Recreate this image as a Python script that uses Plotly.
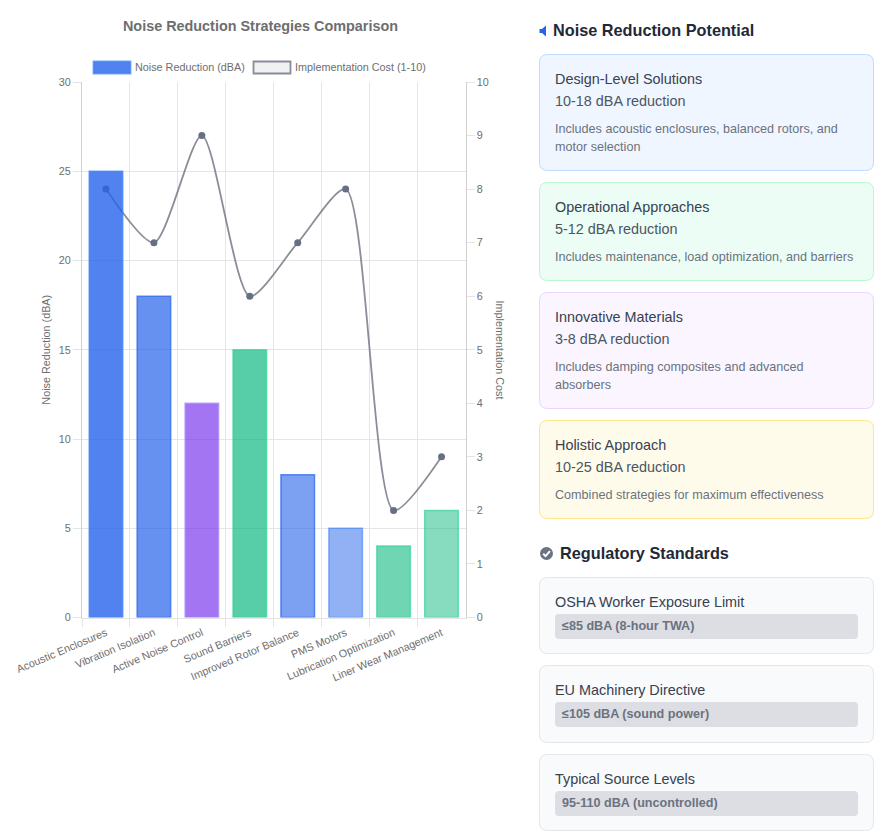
import plotly.graph_objects as go

W, H = 889, 839

# ---- chart data ----
categories = ["Acoustic Enclosures", "Vibration Isolation", "Active Noise Control", "Sound Barriers",
              "Improved Rotor Balance", "PMS Motors", "Lubrication Optimization", "Liner Wear Management"]
noise_reduction = [25, 18, 12, 15, 8, 5, 4, 6]
implementation_cost = [8, 7, 9, 6, 7, 8, 2, 3]
bar_fill = ["rgba(37,99,235,0.8)", "rgba(37,99,235,0.7)", "rgba(124,58,237,0.7)", "rgba(16,185,129,0.7)",
            "rgba(37,99,235,0.6)", "rgba(37,99,235,0.5)", "rgba(16,185,129,0.6)", "rgba(16,185,129,0.5)"]
bar_line = ["rgba(59,130,246,0.7)", "rgba(37,99,235,0.7)", "rgba(167,139,250,0.7)", "rgba(52,211,153,0.7)",
            "rgba(37,99,235,0.7)", "rgba(59,130,246,0.6)", "rgba(52,211,153,0.7)", "rgba(52,211,153,0.7)"]

# ---- side panel text ----
section_potential = "Noise Reduction Potential"
section_standards = "Regulatory Standards"
potential_titles = ["Design-Level Solutions", "Operational Approaches", "Innovative Materials", "Holistic Approach"]
potential_values = ["10-18 dBA reduction", "5-12 dBA reduction", "3-8 dBA reduction", "10-25 dBA reduction"]
potential_notes = [["Includes acoustic enclosures, balanced rotors, and", "motor selection"],
                   ["Includes maintenance, load optimization, and barriers"],
                   ["Includes damping composites and advanced", "absorbers"],
                   ["Combined strategies for maximum effectiveness"]]
standard_titles = ["OSHA Worker Exposure Limit", "EU Machinery Directive", "Typical Source Levels"]
standard_values = ["≤85 dBA (8-hour TWA)", "≤105 dBA (sound power)", "95-110 dBA (uncontrolled)"]

px = lambda x: x / W
py = lambda y: 1 - y / H
CHART_FONT = "Liberation Sans, Arial, sans-serif"
UI_FONT = "Liberation Sans, Arial, sans-serif"
TXT = "#6e6e6e"
CS = 10.8

shapes, annotations = [], []


def rrect(x0, y0, x1, y1, r, fill, line, lw=1):
    X0, X1, Y0, Y1 = px(x0), px(x1), py(y0), py(y1)
    rx, ry = r / W, r / H
    path = (f"M{X0+rx},{Y0} L{X1-rx},{Y0} Q{X1},{Y0} {X1},{Y0-ry} L{X1},{Y1+ry} Q{X1},{Y1} {X1-rx},{Y1} "
            f"L{X0+rx},{Y1} Q{X0},{Y1} {X0},{Y1+ry} L{X0},{Y0-ry} Q{X0},{Y0} {X0+rx},{Y0} Z")
    shapes.append(dict(type="path", xref="paper", yref="paper", path=path, fillcolor=fill,
                       line=dict(color=line, width=lw), layer="below"))


def text(x, y, s, size, color, font=UI_FONT, bold=False, anchor="left", angle=0):
    annotations.append(dict(xref="paper", yref="paper", x=px(x), y=py(y), text=f"<b>{s}</b>" if bold else s,
                            showarrow=False, xanchor=anchor, yanchor="middle", textangle=angle,
                            font=dict(family=font, size=size, color=color), borderpad=0, borderwidth=0))


# legend
rrect(93.5, 61.5, 130.5, 73.5, 0, "rgba(37,99,235,0.8)", "rgba(59,130,246,0.7)", 1.8)
text(135.3, 67.3, "Noise Reduction (dBA)", CS, TXT, CHART_FONT)
rrect(253.5, 61.5, 290.5, 73.5, 0, "rgba(107,114,128,0.1)", "rgba(107,114,128,0.8)", 1.8)
text(295.3, 67.3, "Implementation Cost (1-10)", CS, TXT, CHART_FONT)
text(499.5, 350, "Implementation Cost", CS, TXT, CHART_FONT, anchor="center", angle=90)

# headings + icons
text(553, 29.7, section_potential, 16.25, "#1f2937", bold=True)
shapes.append(dict(type="path", xref="paper", yref="paper", fillcolor="#2563eb", line=dict(width=0),
                   path=f"M{px(539.5)},{py(29)} L{px(542)},{py(29)} L{px(546)},{py(25.5)} L{px(546)},{py(36.5)} "
                        f"L{px(542)},{py(33)} L{px(539.5)},{py(33)} Z"))
text(560, 552.7, section_standards, 16.25, "#1f2937", bold=True)
shapes.append(dict(type="circle", xref="paper", yref="paper", x0=px(540), x1=px(553), y0=py(560), y1=py(547),
                   fillcolor="#6b7280", line=dict(width=0)))
shapes.append(dict(type="path", xref="paper", yref="paper", line=dict(color="white", width=2),
                   path=f"M{px(543.2)},{py(553.7)} L{px(545.6)},{py(556.1)} L{px(549.9)},{py(551.2)}"))

# potential cards
card_boxes = [(54.5, 170.5), (182.5, 280.5), (292.5, 408.5), (420.5, 518.5)]
card_fill = ["#eff6ff", "#ecfdf5", "#faf5ff", "#fffbeb"]
card_line = ["#bfdbfe", "#bbf7d0", "#e9d5ff", "#fde68a"]
for (y0, y1), f, l, t, v, notes in zip(card_boxes, card_fill, card_line, potential_titles, potential_values, potential_notes):
    rrect(539.5, y0, 873.5, y1, 8, f, l)
    text(554.6, y0 + 24.5, t, 14.4, "#374151")
    text(554.6, y0 + 46.5, v, 14.4, "#4b5563")
    for i, n in enumerate(notes):
        text(554.6, y0 + 74.3 + i * 18, n, 12.6, "#6b7280")

# standards cards
std_boxes = [(577.5, 653.5), (665.5, 742.5), (754.5, 830.5)]
for (y0, y1), t, v in zip(std_boxes, standard_titles, standard_values):
    rrect(539.5, y0, 873.5, y1, 8, "#f9fafb", "#e5e7eb")
    text(554.6, y0 + 24.5, t, 14.4, "#374151")
    rrect(555, y0 + 36.5, 858, y0 + 61.5, 4, "#dcdee3", "#dcdee3", 0)
    text(561.6, y0 + 48.5, v, 12.6, "#6b7280", bold=True)

fig = go.Figure()
# The cost line sits on the base subplot so that the bars paint over it.
fig.add_trace(go.Scatter(x=categories, y=implementation_cost, name="Implementation Cost (1-10)", yaxis="y",
                         mode="lines+markers", line=dict(color="rgba(107,114,128,0.8)", width=1.8, shape="spline", smoothing=0.72),
                         marker=dict(color="#667085", size=7), showlegend=False))
fig.add_trace(go.Bar(x=categories, y=noise_reduction, name="Noise Reduction (dBA)", yaxis="y2", width=0.7,
                     marker=dict(color=bar_fill, line=dict(color=bar_line, width=1.5)), showlegend=False))

GRID = "#e5e5e5"
AXIS = "#d0d0d0"
fig.update_layout(
    width=W, height=H, margin=dict(l=0, r=0, t=0, b=0), autosize=False,
    paper_bgcolor="white", plot_bgcolor="white",
    font=dict(family=CHART_FONT, size=CS, color=TXT),
    title=dict(text="<b>Noise Reduction Strategies Comparison</b>", x=260.5 / W, xanchor="center",
               y=py(26), yanchor="middle", font=dict(family=CHART_FONT, size=14.4, color=TXT)),
    bargap=0.3, shapes=shapes, annotations=annotations,
    xaxis=dict(domain=[px(82), px(465.5)], type="category", categoryarray=categories, range=[-0.5, 7.5], tickson="boundaries",
               showgrid=True, gridcolor=GRID, gridwidth=1, ticks="outside", ticklen=8, tickcolor=GRID,
               tickangle=-23, ticklabelstandoff=4, tickfont=dict(size=CS, color=TXT), showline=True, linecolor=GRID,
               automargin=False, zeroline=False),
    yaxis=dict(domain=[py(617.5), py(82)], range=[0, 10], dtick=1, side="right", showgrid=False,
               ticks="outside", ticklen=8, tickcolor=GRID, tickfont=dict(size=CS, color=TXT), showline=True,
               linecolor=AXIS, zeroline=False, automargin=False, anchor="x"),
    yaxis2=dict(domain=[py(617.5), py(82)], range=[0, 30], dtick=5, overlaying="y", side="left", showgrid=True, gridcolor=GRID,
                ticks="outside", ticklen=8, tickcolor=GRID, tickfont=dict(size=CS, color=TXT), showline=True, linecolor=AXIS,
                zeroline=False, automargin=False, anchor="x",
                title=dict(text="Noise Reduction (dBA)", font=dict(size=CS, color=TXT), standoff=6)),
)

fig.write_html("out.html", config=dict(displayModeBar=False),
               post_script="document.body.style.margin='0';document.body.style.overflow='hidden';")
